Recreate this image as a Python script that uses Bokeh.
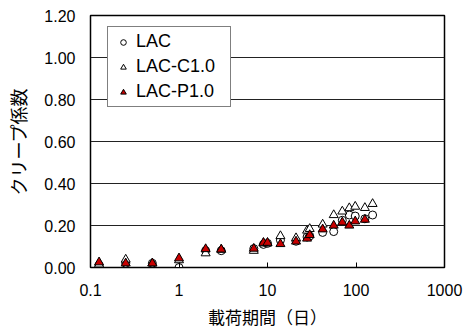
from bokeh.plotting import figure
from bokeh.models import FixedTicker, NumeralTickFormatter, Legend, LegendItem, Range1d
from bokeh.embed import file_html
from bokeh.resources import INLINE

# data (days, creep coefficient)
days = [0.125, 0.25, 0.5, 1, 2, 3, 7, 9, 10, 14, 21, 28, 30, 42, 56, 70, 84, 98, 126, 154]
lac = [0.01, 0.02, 0.02, 0.00, 0.08, 0.08, 0.09, 0.11, 0.115, 0.13, 0.125, 0.145, 0.15, 0.167, 0.171, 0.225, 0.25, 0.245, 0.232, 0.25]
lac_c = [0.015, 0.038, 0.02, 0.035, 0.068, 0.085, 0.08, 0.115, 0.115, 0.15, 0.14, 0.176, 0.184, 0.205, 0.25, 0.267, 0.283, 0.29, 0.284, 0.303]
days_p = [0.125, 0.25, 0.5, 1, 2, 3, 7, 9, 10, 14, 21, 28, 30, 42, 56, 70, 84, 98, 126]
lac_p = [0.025, 0.02, 0.02, 0.044, 0.088, 0.086, 0.09, 0.118, 0.118, 0.112, 0.124, 0.138, 0.155, 0.182, 0.2, 0.215, 0.2, 0.22, 0.228]

x_ticks = [0.1, 1, 10, 100, 1000]
y_ticks = [0.0, 0.2, 0.4, 0.6, 0.8, 1.0, 1.2]
names = ["LAC", "LAC-C1.0", "LAC-P1.0"]

CJK = "'Liberation Sans', 'Noto Sans CJK JP'"

p = figure(width=466, height=333, x_axis_type="log", output_backend="svg",
           toolbar_location=None,
           x_range=Range1d(0.1, 1000), y_range=Range1d(0, 1.2),
           min_border_left=90, min_border_right=22, min_border_top=15, min_border_bottom=66)

s1 = p.scatter(x=days, y=lac, marker="circle", size=8, fill_color="white", line_color="black", line_width=1)
s2 = p.scatter(x=days, y=lac_c, marker="triangle", size=9, fill_color="white", line_color="black", line_width=1)
s3 = p.scatter(x=days_p, y=lac_p, marker="triangle", size=9, fill_color="#c80000", line_color="black", line_width=1)

p.outline_line_color = "black"
p.outline_line_width = 1.5
p.background_fill_color = "white"
p.border_fill_color = "white"

p.xgrid.visible = False
p.ygrid.ticker = FixedTicker(ticks=y_ticks)
p.ygrid.grid_line_color = "#222222"
p.ygrid.grid_line_width = 1

p.xaxis.ticker = FixedTicker(ticks=x_ticks)
p.xaxis.major_label_overrides = {0.1: "0.1", 1: "1", 10: "10", 100: "100", 1000: "1000"}
p.xaxis.minor_tick_line_color = None
p.xaxis.major_tick_in = 5
p.xaxis.major_tick_out = 0
p.xaxis.major_tick_line_color = "black"
p.xaxis.axis_line_color = "black"
p.xaxis.major_label_standoff = 16
p.xaxis.axis_label = "載荷期間（日）"
p.xaxis.axis_label_standoff = 10

p.yaxis.ticker = FixedTicker(ticks=y_ticks)
p.yaxis.formatter = NumeralTickFormatter(format="0.00")
p.yaxis.minor_tick_line_color = None
p.yaxis.major_tick_in = 0
p.yaxis.major_tick_out = 0
p.yaxis.axis_line_color = "black"
p.yaxis.major_label_standoff = 15
p.yaxis.axis_label = "クリープ係数"
p.yaxis.axis_label_standoff = 11

for ax in (p.xaxis, p.yaxis):
    ax.major_label_text_font = "Liberation Sans"
    ax.major_label_text_font_size = "16px"
    ax.major_label_text_color = "black"
    ax.axis_label_text_font = CJK
    ax.axis_label_text_font_style = "normal"
    ax.axis_label_text_color = "black"
p.xaxis.axis_label_text_font_size = "17px"
p.yaxis.axis_label_text_font_size = "18px"

legend = Legend(items=[LegendItem(label=names[0], renderers=[s1]),
                       LegendItem(label=names[1], renderers=[s2]),
                       LegendItem(label=names[2], renderers=[s3])],
                location=(17, 160))
legend.border_line_color = "black"
legend.border_line_width = 1
legend.background_fill_color = "white"
legend.background_fill_alpha = 1
legend.label_text_font = "Liberation Sans"
legend.label_text_font_size = "18px"
legend.label_text_color = "black"
legend.glyph_width = 22
legend.glyph_height = 14
legend.label_height = 20
legend.label_width = 90
legend.label_standoff = 2
legend.spacing = 4
legend.padding = 4
legend.margin = 0
p.add_layout(legend, "center")

open("out.html", "w").write(file_html(p, INLINE))
